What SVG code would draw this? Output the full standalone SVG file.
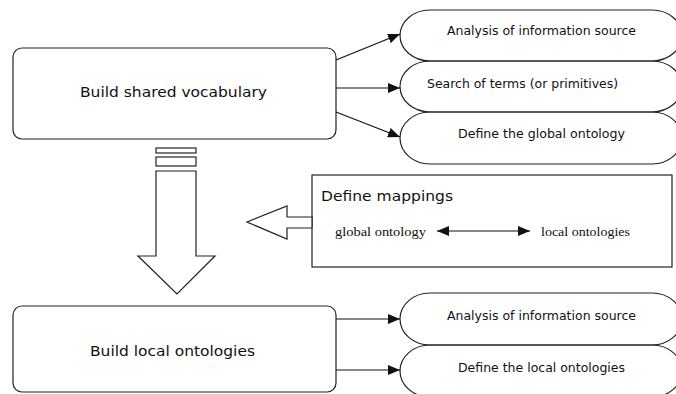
<svg xmlns="http://www.w3.org/2000/svg" width="676" height="394" viewBox="0 0 676 394">
<defs>
<style>
.box{fill:#fff;stroke:#222;stroke-width:1.2}
.ell{fill:none;stroke:#222;stroke-width:1.2}
.ln{fill:none;stroke:#111;stroke-width:1.2}
.big{fill:#fff;stroke:#222;stroke-width:1.2}
.t{font-family:"DejaVu Sans",Verdana,sans-serif;fill:#111}
.s{font-family:"Liberation Serif","Times New Roman",serif;fill:#111;font-size:12px}
</style>
<marker id="ah" viewBox="0 0 12 10" refX="12" refY="5" markerWidth="12" markerHeight="10" markerUnits="userSpaceOnUse" orient="auto-start-reverse">
<path d="M0,0 L12,5 L0,10 Z" fill="#111"/>
</marker>
</defs>
<rect width="676" height="394" fill="#fff"/>

<g id="build-shared">
<rect class="box" x="13" y="48" width="323" height="91" rx="9" ry="9"/>
<text class="t" x="80" y="97" font-size="14" textLength="187" lengthAdjust="spacingAndGlyphs">Build shared vocabulary</text>
</g>

<g id="analysis-1">
<rect class="ell" x="400" y="10" width="282" height="51" rx="30" ry="25.5"/>
<text class="t" x="447" y="35" font-size="12" textLength="189" lengthAdjust="spacingAndGlyphs">Analysis of information source</text>
</g>
<g id="search-terms">
<rect class="ell" x="400" y="61" width="282" height="51" rx="30" ry="25.5"/>
<text class="t" x="427" y="88" font-size="12" textLength="191" lengthAdjust="spacingAndGlyphs">Search of terms (or primitives)</text>
</g>
<g id="define-global">
<rect class="ell" x="400" y="112" width="282" height="52" rx="30" ry="26"/>
<text class="t" x="458" y="138" font-size="12" textLength="167" lengthAdjust="spacingAndGlyphs">Define the global ontology</text>
</g>

<g id="bars">
<rect class="big" x="156" y="148" width="40" height="5"/>
<rect class="big" x="156" y="157" width="40" height="9"/>
</g>
<g id="down-arrow">
<polygon class="big" points="156,171 196,171 196,256 215,256 177,294 138,256 156,256"/>
</g>

<g id="define-mappings">
<rect class="box" x="312" y="175" width="360" height="92"/>
<text class="t" x="321" y="201" font-size="14" textLength="132" lengthAdjust="spacingAndGlyphs">Define mappings</text>
<text class="s" x="335" y="236" textLength="91" lengthAdjust="spacingAndGlyphs">global ontology</text>
<text class="s" x="541" y="236" textLength="89" lengthAdjust="spacingAndGlyphs">local ontologies</text>
<line class="ln" x1="437" y1="231" x2="530" y2="231" marker-start="url(#ah)" marker-end="url(#ah)"/>
</g>
<g id="left-arrow">
<polygon class="big" points="312,217 287,217 287,206 247,222 287,239 287,228 312,228"/>
</g>

<g id="build-local">
<rect class="box" x="13" y="306" width="323" height="86" rx="9" ry="9"/>
<text class="t" x="90" y="356" font-size="14" textLength="165" lengthAdjust="spacingAndGlyphs">Build local ontologies</text>
</g>
<g id="analysis-2">
<rect class="ell" x="400" y="293" width="282" height="52" rx="30" ry="26"/>
<text class="t" x="447" y="320" font-size="12" textLength="189" lengthAdjust="spacingAndGlyphs">Analysis of information source</text>
</g>
<g id="define-local">
<rect class="ell" x="400" y="345" width="282" height="52" rx="30" ry="26"/>
<text class="t" x="458" y="372" font-size="12" textLength="167" lengthAdjust="spacingAndGlyphs">Define the local ontologies</text>
</g>

<g id="connectors">
<line class="ln" x1="336" y1="60" x2="400" y2="34" marker-end="url(#ah)"/>
<line class="ln" x1="336" y1="88" x2="400" y2="88" marker-end="url(#ah)"/>
<line class="ln" x1="336" y1="112" x2="400" y2="137" marker-end="url(#ah)"/>
<line class="ln" x1="336" y1="319" x2="400" y2="319" marker-end="url(#ah)"/>
<line class="ln" x1="336" y1="370" x2="400" y2="370" marker-end="url(#ah)"/>
</g>
</svg>
